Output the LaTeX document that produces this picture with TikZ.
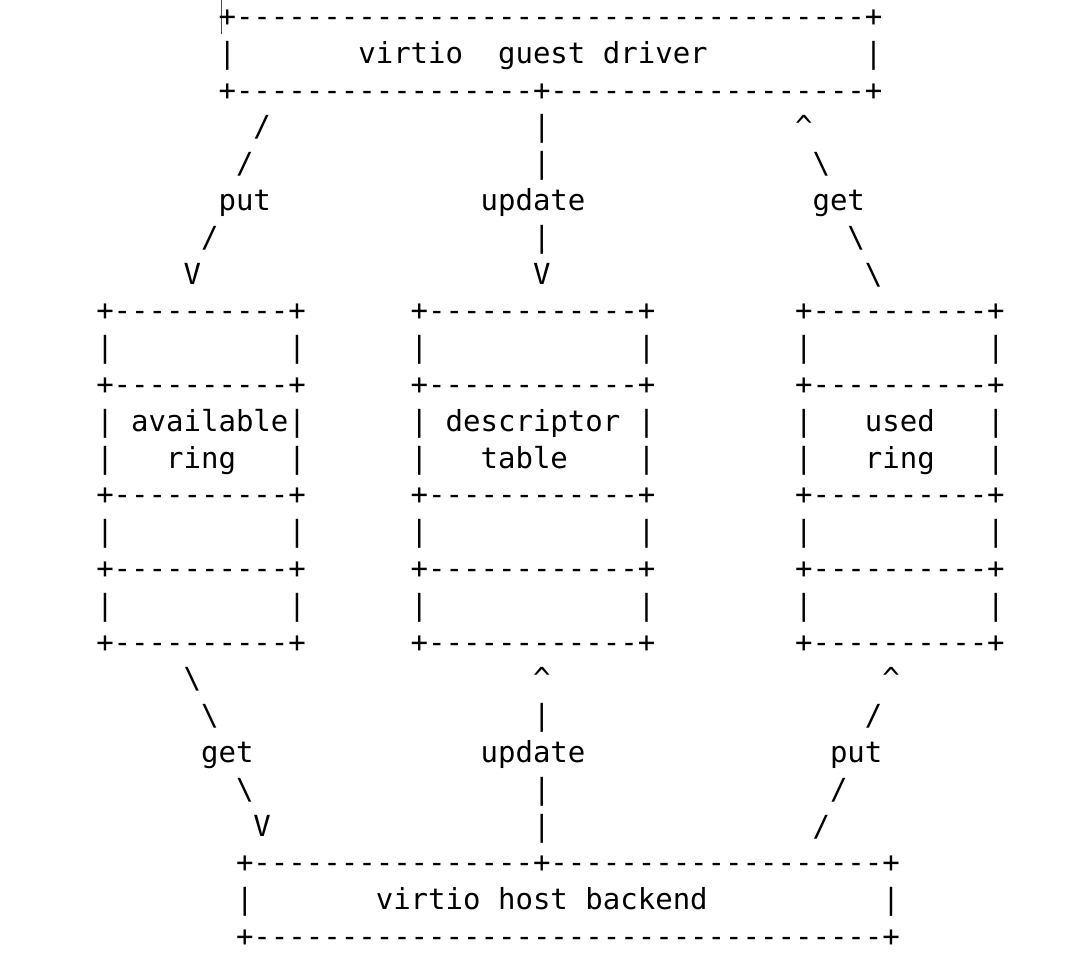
\documentclass[tikz,border=0pt]{standalone}
\usepackage{fontspec}
\setmonofont{DejaVu Sans Mono}
\usepackage{tikz}

\begin{document}
\begin{tikzpicture}[x=17.47pt, y=-36.8pt,
    ascii/.style={font=\ttfamily\fontsize{29.02pt}{36.8pt}\selectfont,
      anchor=base west, inner sep=0pt, outer sep=0pt}]
  \useasboundingbox (-5.510,-0.720) rectangle (56.310,25.557);
  % text cursor left of the top box
  \draw[black!70, line width=0.9pt] (7.18,-0.72) -- (7.18,0.2);

  % virtio guest driver
  \node[ascii] (guest-top) at (7,0) {+------------------------------------+};
  \node[ascii] (guest-l) at (7,1) {|};
  \node[ascii] (guest-w1) at (15,1) {virtio};
  \node[ascii] (guest-w2) at (23,1) {guest};
  \node[ascii] (guest-w3) at (29,1) {driver};
  \node[ascii] (guest-r) at (44,1) {|};
  \node[ascii] (guest-bot) at (7,2) {+-----------------+------------------+};

  % guest -> available ring: put
  \node[ascii] (put-a1) at (9,3) {/};
  \node[ascii] (put-a2) at (8,4) {/};
  \node[ascii] (put-a) at (7,5) {put};
  \node[ascii] (put-a3) at (6,6) {/};
  \node[ascii] (put-a4) at (5,7) {V};
  % guest -> descriptor table: update
  \node[ascii] (upd-a1) at (25,3) {|};
  \node[ascii] (upd-a2) at (25,4) {|};
  \node[ascii] (upd-a) at (22,5) {update};
  \node[ascii] (upd-a3) at (25,6) {|};
  \node[ascii] (upd-a4) at (25,7) {V};
  % used ring -> guest: get
  \node[ascii] (get-a1) at (40,3) {\textasciicircum};
  \node[ascii] (get-a2) at (41,4) {\textbackslash};
  \node[ascii] (get-a) at (41,5) {get};
  \node[ascii] (get-a3) at (43,6) {\textbackslash};
  \node[ascii] (get-a4) at (44,7) {\textbackslash};

  % the three rings
  \foreach \bx/\c/\r/\edge in {avail/0/11/{+----------+},
      desc/18/31/{+------------+}, used/40/51/{+----------+}} {
    \foreach \y in {8,10,13,15,17}
      \node[ascii] (\bx-edge-\y) at (\c,\y) {\edge};
    \foreach \y in {9,11,12,14,16} {
      \node[ascii] (\bx-l-\y) at (\c,\y) {|};
      \node[ascii] (\bx-r-\y) at (\r,\y) {|};
    }
  }
  \node[ascii] (avail-t1) at (2,11) {available};
  \node[ascii] (avail-t2) at (4,12) {ring};
  \node[ascii] (desc-t1) at (20,11) {descriptor};
  \node[ascii] (desc-t2) at (22,12) {table};
  \node[ascii] (used-t1) at (44,11) {used};
  \node[ascii] (used-t2) at (44,12) {ring};

  % available ring -> host: get
  \node[ascii] (get-b1) at (5,18) {\textbackslash};
  \node[ascii] (get-b2) at (6,19) {\textbackslash};
  \node[ascii] (get-b) at (6,20) {get};
  \node[ascii] (get-b3) at (8,21) {\textbackslash};
  \node[ascii] (get-b4) at (9,22) {V};
  % host -> descriptor table: update
  \node[ascii] (upd-b1) at (25,18) {\textasciicircum};
  \node[ascii] (upd-b2) at (25,19) {|};
  \node[ascii] (upd-b) at (22,20) {update};
  \node[ascii] (upd-b3) at (25,21) {|};
  \node[ascii] (upd-b4) at (25,22) {|};
  % host -> used ring: put
  \node[ascii] (put-b1) at (45,18) {\textasciicircum};
  \node[ascii] (put-b2) at (44,19) {/};
  \node[ascii] (put-b) at (42,20) {put};
  \node[ascii] (put-b3) at (42,21) {/};
  \node[ascii] (put-b4) at (41,22) {/};

  % virtio host backend
  \node[ascii] (host-top) at (8,23) {+----------------+-------------------+};
  \node[ascii] (host-l) at (8,24) {|};
  \node[ascii] (host-w1) at (16,24) {virtio};
  \node[ascii] (host-w2) at (23,24) {host};
  \node[ascii] (host-w3) at (28,24) {backend};
  \node[ascii] (host-r) at (45,24) {|};
  \node[ascii] (host-bot) at (8,25) {+------------------------------------+};
\end{tikzpicture}
\end{document}
